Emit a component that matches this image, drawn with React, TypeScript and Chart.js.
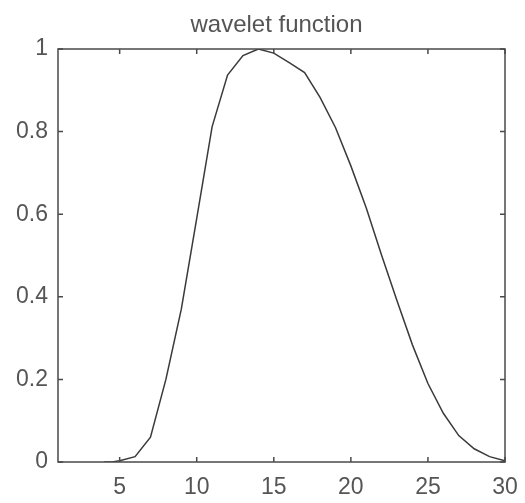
import React, { useEffect, useRef } from "react";
import { Chart, registerables } from "chart.js";

Chart.register(...registerables);

const titleText = "wavelet function";

const xValues = [4, 4.5, 5, 6, 7, 8, 9, 10, 11, 12, 13, 14, 15, 16, 17, 18, 19, 20, 21, 22, 23, 24, 25, 26, 27, 28, 29, 30];
const yValues = [0, 0, 0.003, 0.013, 0.06, 0.2, 0.37, 0.59, 0.812, 0.937, 0.984, 1.0, 0.99, 0.967, 0.943, 0.883, 0.81, 0.717, 0.615, 0.5, 0.39, 0.283, 0.19, 0.118, 0.064, 0.032, 0.013, 0.003];

const xTickValues = [5, 10, 15, 20, 25, 30];
const xTickLabels = ["5", "10", "15", "20", "25", "30"];
const yTickValues = [0, 0.2, 0.4, 0.6, 0.8, 1];
const yTickLabels = ["0", "0.2", "0.4", "0.6", "0.8", "1"];

const FONT = "'Liberation Sans', Arial, sans-serif";
const TEXT_COLOR = "#555555";
const AXIS_COLOR = "#4a4a4a";
const LINE_COLOR = "#3a3a3a";

const framePlugin = {
  id: "matlabFrame",
  afterLayout(chart: any) {
    // centre the title slightly left of the axes centre, as in the reference
    if (chart.titleBlock) {
      chart.titleBlock.left -= 10;
    }
  },
  afterDraw(chart: any) {
    const { ctx, chartArea: a, scales } = chart;
    const xs = scales.x;
    const ys = scales.y;
    const L = 5;
    ctx.save();
    ctx.strokeStyle = AXIS_COLOR;
    ctx.lineWidth = 1.5;
    ctx.strokeRect(a.left, a.top, a.right - a.left, a.bottom - a.top);
    ctx.beginPath();
    xTickValues.forEach((v) => {
      const px = xs.getPixelForValue(v);
      ctx.moveTo(px, a.bottom);
      ctx.lineTo(px, a.bottom - L);
      ctx.moveTo(px, a.top);
      ctx.lineTo(px, a.top + L);
    });
    yTickValues.forEach((v) => {
      const py = ys.getPixelForValue(v);
      ctx.moveTo(a.left, py);
      ctx.lineTo(a.left + L, py);
      ctx.moveTo(a.right, py);
      ctx.lineTo(a.right - L, py);
    });
    ctx.stroke();
    ctx.restore();
  },
};

export default function App() {
  const canvasRef = useRef<HTMLCanvasElement | null>(null);

  useEffect(() => {
    if (!canvasRef.current) return;
    const points = xValues.map((x, i) => ({ x, y: yValues[i] }));
    const chart = new Chart(canvasRef.current, {
      type: "line",
      data: {
        datasets: [
          {
            data: points,
            borderColor: LINE_COLOR,
            borderWidth: 1.5,
            pointRadius: 0,
            tension: 0,
            fill: false,
          },
        ],
      },
      options: {
        animation: false,
        responsive: false,
        devicePixelRatio: 1,
        layout: { padding: { left: 0, right: 20, top: 0, bottom: 0 } },
        plugins: {
          legend: { display: false },
          tooltip: { enabled: false },
          title: {
            display: true,
            text: titleText,
            fullSize: false,
            color: TEXT_COLOR,
            font: { family: FONT, size: 24, weight: "normal" },
            padding: { top: 11, bottom: 9.2 },
          },
        },
        scales: {
          x: {
            type: "linear",
            min: 1,
            max: 30,
            grid: { display: false, drawTicks: false },
            border: { display: false },
            ticks: {
              color: TEXT_COLOR,
              font: { family: FONT, size: 23 },
              padding: 12,
              maxRotation: 0,
              autoSkip: false,
              callback: (v: any) => {
                const i = xTickValues.indexOf(Number(v));
                return i >= 0 ? xTickLabels[i] : "";
              },
            },
            afterBuildTicks: (s: any) => {
              s.ticks = xTickValues.map((v) => ({ value: v }));
            },
            afterFit: (s: any) => {
              s.height = 41;
              s.paddingLeft = 0;
              s.paddingRight = 0;
            },
          },
          y: {
            type: "linear",
            min: 0,
            max: 1,
            grid: { display: false, drawTicks: false },
            border: { display: false },
            ticks: {
              color: TEXT_COLOR,
              font: { family: FONT, size: 23 },
              padding: 10,
              autoSkip: false,
              callback: (v: any) => {
                const i = yTickValues.findIndex((t) => Math.abs(t - Number(v)) < 1e-9);
                return i >= 0 ? yTickLabels[i] : "";
              },
            },
            afterBuildTicks: (s: any) => {
              s.ticks = yTickValues.map((v) => ({ value: v }));
            },
            afterFit: (s: any) => {
              s.width = 58;
            },
          },
        },
      },
      plugins: [framePlugin],
    } as any);
    return () => chart.destroy();
  }, []);

  return (
    <div style={{ position: "absolute", left: 0, top: 0, width: 525, height: 503, background: "#ffffff" }}>
      <canvas ref={canvasRef} width={525} height={503} style={{ display: "block" }} />
    </div>
  );
}
